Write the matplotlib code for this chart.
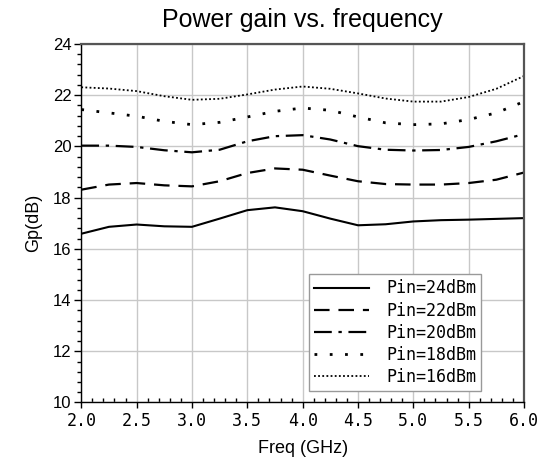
import numpy as np
import matplotlib
matplotlib.use('Agg')
import matplotlib.pyplot as plt
from matplotlib.ticker import MultipleLocator

# frequency points (GHz)
freq = [2.0, 2.25, 2.5, 2.75, 3.0, 3.25, 3.5, 3.75, 4.0,
        4.25, 4.5, 4.75, 5.0, 5.25, 5.5, 5.75, 6.0]

# power gain (dB) for each input power
gp_24 = [16.59, 16.86, 16.95, 16.88, 16.86, 17.18, 17.51, 17.62, 17.47,
         17.18, 16.92, 16.96, 17.07, 17.12, 17.14, 17.17, 17.20]
gp_22 = [18.31, 18.51, 18.57, 18.48, 18.44, 18.64, 18.96, 19.14, 19.09,
         18.86, 18.64, 18.53, 18.51, 18.51, 18.57, 18.70, 18.98]
gp_20 = [20.03, 20.03, 19.98, 19.85, 19.77, 19.87, 20.20, 20.40, 20.44,
         20.27, 20.01, 19.87, 19.84, 19.86, 19.98, 20.20, 20.48]
gp_18 = [21.44, 21.31, 21.18, 20.98, 20.85, 20.94, 21.15, 21.37, 21.50,
         21.41, 21.15, 20.92, 20.85, 20.88, 21.05, 21.31, 21.75]
gp_16 = [22.31, 22.26, 22.16, 21.96, 21.82, 21.86, 22.03, 22.22, 22.34,
         22.25, 22.07, 21.87, 21.75, 21.75, 21.93, 22.25, 22.75]

labels = ['Pin=24dBm', 'Pin=22dBm', 'Pin=20dBm', 'Pin=18dBm', 'Pin=16dBm']
xticks = [2.0, 2.5, 3.0, 3.5, 4.0, 4.5, 5.0, 5.5, 6.0]
yticks = [10, 12, 14, 16, 18, 20, 22, 24]

plt.rcParams['font.family'] = ['Liberation Sans', 'DejaVu Sans']

fig = plt.figure(figsize=(5.51, 4.66), dpi=100)
ax = fig.add_axes([0.1475, 0.1363, 0.8035, 0.7693])

ax.plot(freq, gp_24, color='black', lw=1.5, label=labels[0])
ax.plot(freq, gp_22, color='black', lw=1.6, dashes=(7, 4), label=labels[1])
ax.plot(freq, gp_20, color='black', lw=1.6, dashes=(8, 3, 1.5, 3), label=labels[2])
ax.plot(freq, gp_18, color='black', lw=2.0, dashes=(1, 4.5), label=labels[3])
ax.plot(freq, gp_16, color='black', lw=1.3, dashes=(1, 1.3), label=labels[4])

ax.set_xlim(2.0, 6.0)
ax.set_ylim(10, 24)
ax.set_xticks(xticks)
ax.set_yticks(yticks)
ax.set_xticklabels(['%.1f' % v for v in xticks], family='DejaVu Sans Mono', fontsize=12)
ax.set_yticklabels([str(v) for v in yticks], fontsize=12)
ax.xaxis.set_minor_locator(MultipleLocator(0.1))
ax.yaxis.set_minor_locator(MultipleLocator(0.4))

ax.tick_params(axis='x', which='major', direction='out', length=4, width=1, pad=3)
ax.tick_params(axis='x', which='minor', direction='in', length=3, width=1)
ax.tick_params(axis='y', which='major', direction='out', length=5, width=1, pad=2)
ax.tick_params(axis='y', which='minor', direction='out', length=3, width=1)

ax.grid(True, which='major', color='#c8c8c8', lw=1)
ax.set_axisbelow(True)
for s in ['top', 'right']:
    ax.spines[s].set_color('#555555')
    ax.spines[s].set_linewidth(1.6)
for s in ['left', 'bottom']:
    ax.spines[s].set_color('black')
    ax.spines[s].set_linewidth(1.0)

ax.set_xlabel('Freq (GHz)', fontsize=13, labelpad=7)
ax.set_ylabel('Gp(dB)', fontsize=13, labelpad=8)
ax.set_title('Power gain vs. frequency', fontsize=18, pad=12)

leg = ax.legend(loc='lower right', bbox_to_anchor=(0.903, 0.032),
                prop={'family': 'DejaVu Sans Mono', 'size': 12},
                frameon=True, fancybox=False, framealpha=1,
                edgecolor='#999999', handlelength=3.3, labelspacing=0.25,
                borderpad=0.3, handletextpad=1.0, borderaxespad=0)
leg.get_frame().set_linewidth(1.0)

fig.savefig('out.png', dpi=100)
